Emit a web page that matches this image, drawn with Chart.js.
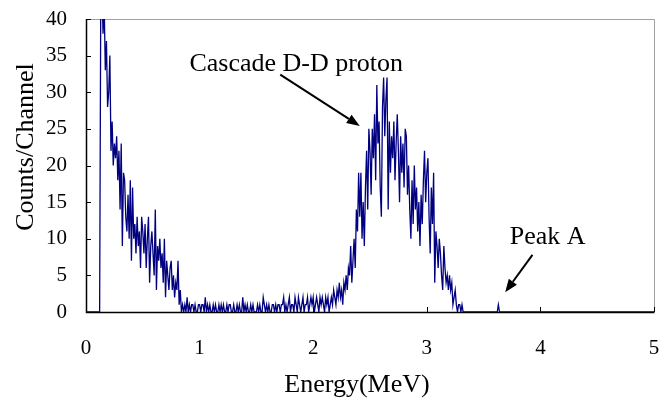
<!DOCTYPE html>
<html>
<head>
<meta charset="utf-8">
<script src="https://cdn.jsdelivr.net/npm/chart.js@4.4.1/dist/chart.umd.min.js"></script>
<style>
  html, body { margin: 0; padding: 0; background: #fff; }
  #wrap { width: 667px; height: 403px; }
</style>
</head>
<body>
<div id="wrap"><canvas id="c" width="667" height="403"></canvas></div>
<script>
// ---- Data ----
const channelWidth = 0.01;          // MeV per channel
// counts per channel, E = 0.00 ... 3.40 MeV
const counts = [
  0,0,0,0,0,0,0,0,0,0,
  0,0,0,43,45,38,42,33,37,28,
  30,35,22,26,20,23,21,24,18,22,
  14,23,9,19,18,13,11,16,10,18,
  7,17,10,12,8,13,9,11,6,13,
  11,8,12,6,10,13,4,9,11,8,
  5,14,3,9,7,10,6,8,4,10,
  2,7,5,3,6,7,3,5,2,4,
  3,7,1,3,0,1,0,1,0,2,
  0,1,0,1,1,0,1,0,0,1,
  1,0,1,1,0,2,0,1,0,1,
  0,0,1,0,1,0,0,1,0,1,
  0,1,0,0,1,0,1,1,0,0,
  1,0,0,1,0,1,0,0,2,0,
  1,0,1,0,0,1,0,1,0,0,
  0,1,0,1,0,0,2,1,0,1,
  0,1,0,0,1,1,0,1,0,1,
  1,0,1,1,2,0,1,0,1,2,
  0,1,1,0,2,1,0,2,1,0,
  1,2,0,1,1,2,0,1,2,1,
  2,0,1,2,1,0,2,1,2,1,
  0,2,1,2,0,1,2,1,3,2,
  1,3,2,4,2,3,1,4,3,5,
  3,6,5,9,4,7,10,6,14,11,
  19,13,19,10,15,9,17,22,14,25,
  22,16,25,21,27,18,31,23,26,17,
  13,28,32,24,29,32,14,26,19,24,
  21,26,18,23,27,22,15,24,19,23,
  17,25,24,16,20,14,10,18,12,20,
  14,17,11,15,9,16,12,18,22,15,
  19,21,13,8,17,12,19,4,11,9,
  6,10,8,5,3,9,6,4,5,3,
  5,3,4,1,2,3,1,0,1,1,
  0,1,0,0,0,0,0,0,0,0,
  0
];
// remaining channels (flat zero apart from peak A)
const tailEnergy = [3.41, 3.62, 3.63, 3.64, 5.00];
const tailCounts = [0, 0, 1, 0, 0];

const xTicks = [0, 1, 2, 3, 4, 5];
const yTicks = [0, 5, 10, 15, 20, 25, 30, 35, 40];

const xTitle = 'Energy(MeV)';
const yTitle = 'Counts/Channel';
const label1 = 'Cascade D-D proton';
const label2 = 'Peak A';

// ---- build points ----
const points = counts.map((c, i) => ({ x: +(i * channelWidth).toFixed(2), y: c }))
  .concat(tailEnergy.map((e, i) => ({ x: e, y: tailCounts[i] })));

const SERIF = "'Liberation Serif', 'Times New Roman', serif";

const decor = {
  id: 'decor',
  beforeDatasetsDraw(chart) {
    const { ctx, chartArea: a, scales: { x, y } } = chart;
    ctx.save();
    ctx.lineWidth = 1;
    ctx.strokeStyle = '#a0a0a0';
    ctx.beginPath();
    ctx.moveTo(a.left, a.top + 0.5);
    ctx.lineTo(a.right + 0.5, a.top + 0.5);
    ctx.lineTo(a.right + 0.5, a.bottom);
    ctx.stroke();
    ctx.strokeStyle = '#000';
    ctx.lineWidth = 1.5;
    ctx.beginPath();
    ctx.moveTo(a.left + 0.5, a.top);
    ctx.lineTo(a.left + 0.5, a.bottom + 0.5);
    ctx.lineTo(a.right + 0.5, a.bottom + 0.5);
    ctx.stroke();
    ctx.lineWidth = 1;
    ctx.beginPath();
    yTicks.forEach(v => {
      const py = Math.round(y.getPixelForValue(v)) + 0.5;
      ctx.moveTo(a.left, py); ctx.lineTo(a.left + 5, py);
    });
    xTicks.forEach(v => {
      const px = Math.round(x.getPixelForValue(v)) + 0.5;
      ctx.moveTo(px, a.bottom); ctx.lineTo(px, a.bottom - 5);
    });
    ctx.stroke();
    ctx.restore();
  },
  afterDatasetsDraw(chart) {
    const { ctx, scales: { x, y } } = chart;
    ctx.save();
    ctx.fillStyle = '#000';
    ctx.strokeStyle = '#000';
    ctx.font = '26px ' + SERIF;
    ctx.textAlign = 'center';
    ctx.textBaseline = 'middle';
    ctx.fillText(xTitle, 357, 385);
    ctx.save();
    ctx.translate(26, 147);
    ctx.rotate(-Math.PI / 2);
    ctx.fillText(yTitle, 0, 0);
    ctx.restore();

    ctx.textAlign = 'left';
    ctx.textBaseline = 'alphabetic';
    ctx.font = '26px ' + SERIF;
    ctx.fillText(label1, x.getPixelForValue(0.91), y.getPixelForValue(32.9));
    ctx.fillText(label2, x.getPixelForValue(3.73), y.getPixelForValue(9.3));

    const arrow = (e0, c0, e1, c1) => {
      const x0 = x.getPixelForValue(e0), y0 = y.getPixelForValue(c0);
      const x1 = x.getPixelForValue(e1), y1 = y.getPixelForValue(c1);
      const ang = Math.atan2(y1 - y0, x1 - x0);
      const hl = 13, hw = 5;
      const bx = x1 - hl * Math.cos(ang), by = y1 - hl * Math.sin(ang);
      ctx.lineWidth = 2;
      ctx.beginPath();
      ctx.moveTo(x0, y0); ctx.lineTo(bx, by); ctx.stroke();
      ctx.beginPath();
      ctx.moveTo(x1, y1);
      ctx.lineTo(bx + hw * Math.sin(ang), by - hw * Math.cos(ang));
      ctx.lineTo(bx - hw * Math.sin(ang), by + hw * Math.cos(ang));
      ctx.closePath();
      ctx.fill();
    };
    arrow(1.71, 32.4, 2.41, 25.4);
    arrow(3.93, 7.8, 3.69, 2.7);
    ctx.restore();
  }
};

new Chart(document.getElementById('c'), {
  type: 'line',
  data: {
    datasets: [{
      data: points,
      borderColor: '#000080',
      borderWidth: 1.3,
      pointRadius: 0,
      tension: 0,
      fill: false
    }]
  },
  options: {
    responsive: false,
    animation: false,
    layout: { padding: { top: 19, right: 13, left: 0, bottom: 0 } },
    plugins: { legend: { display: false }, tooltip: { enabled: false } },
    scales: {
      x: {
        type: 'linear', min: 0, max: 5,
        afterFit(s) { s.height = 91; s.paddingLeft = 0; s.paddingRight = 0; },
        afterBuildTicks(s) { s.ticks = xTicks.map(v => ({ value: v })); },
        grid: { display: false },
        border: { display: false },
        ticks: { color: '#000', font: { family: SERIF, size: 21 }, padding: 16, maxRotation: 0 }
      },
      y: {
        min: 0, max: 40,
        afterFit(s) { s.width = 86; s.paddingTop = 0; s.paddingBottom = 0; },
        afterBuildTicks(s) { s.ticks = yTicks.map(v => ({ value: v })); },
        grid: { display: false },
        border: { display: false },
        ticks: { color: '#000', font: { family: SERIF, size: 21 }, padding: 11 }
      }
    }
  },
  plugins: [decor]
});
</script>
</body>
</html>
